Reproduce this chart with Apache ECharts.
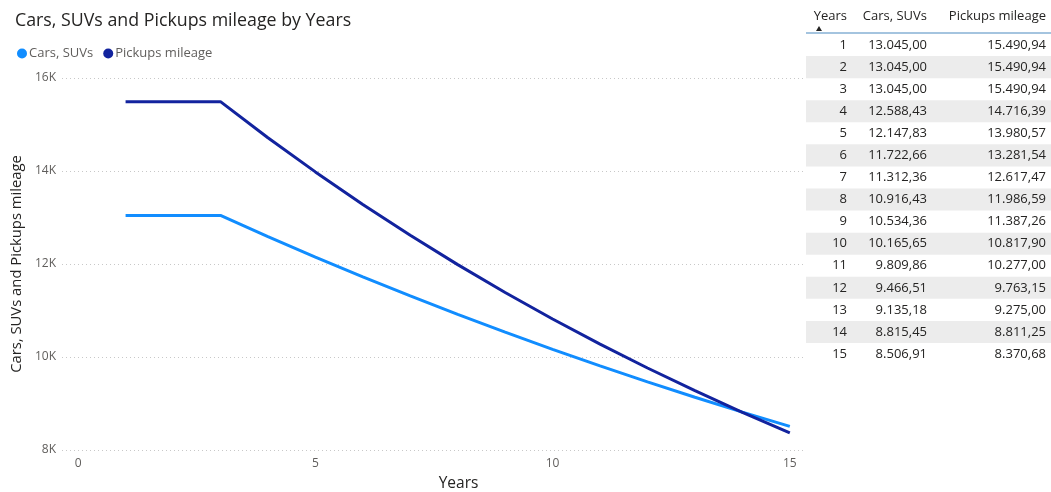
<!DOCTYPE html>
<html>
<head>
<meta charset="utf-8">
<script src="https://cdn.jsdelivr.net/npm/echarts@6/dist/echarts.min.js"></script>
<style>
  html, body { margin: 0; padding: 0; background: #fff; }
  #chart { width: 1051px; height: 492px; }
</style>
</head>
<body>
<div id="chart"></div>
<script>
// Mileage by age of vehicle (years)
const years = [1, 2, 3, 4, 5, 6, 7, 8, 9, 10, 11, 12, 13, 14, 15];
const carsSuvs = [13045.00, 13045.00, 13045.00, 12588.43, 12147.83, 11722.66, 11312.36, 10916.43, 10534.36, 10165.65, 9809.86, 9466.51, 9135.18, 8815.45, 8506.91];
const pickups = [15490.94, 15490.94, 15490.94, 14716.39, 13980.57, 13281.54, 12617.47, 11986.59, 11387.26, 10817.90, 10277.00, 9763.15, 9275.00, 8811.25, 8370.68];
const xTicks = [0, 5, 10, 15];
const tableHeaders = ['Years', 'Cars, SUVs', 'Pickups mileage'];

const FONT = '"Open Sans", "Noto Sans", sans-serif';
const TEXT_DARK = '#252423';
const TEXT_GREY = '#605E5C';

// German-style number format: 13.045,00
function fmt(v) {
  const parts = v.toFixed(2).split('.');
  const intPart = parts[0].replace(/\B(?=(\d{3})+(?!\d))/g, '.');
  return intPart + ',' + parts[1];
}

// Side table built from the same arrays
const table = [];
const tx = 806, tw = 245;
const rowTop = 34, rowH = 22.07;
const colRight = [847, 927, 1046];
tableHeaders.forEach((h, i) => {
  table.push({
    type: 'text', x: colRight[i], y: 16,
    style: { text: h, align: 'right', verticalAlign: 'middle', font: '13px ' + FONT, fill: TEXT_DARK }
  });
});
table.push({ type: 'polygon', shape: { points: [[816, 31], [822, 31], [819, 26]] }, style: { fill: TEXT_DARK } });
table.push({ type: 'rect', shape: { x: tx, y: 32.5, width: tw, height: 1 }, style: { fill: '#4a8ac0' } });
years.forEach((yr, r) => {
  const y0 = rowTop + r * rowH;
  if (r % 2 === 1) {
    table.push({ type: 'rect', shape: { x: tx, y: y0, width: tw, height: rowH }, style: { fill: '#ececec' }, z: 0 });
  }
  const cells = [String(yr), fmt(carsSuvs[r]), fmt(pickups[r])];
  cells.forEach((c, i) => {
    table.push({
      type: 'text', x: colRight[i], y: y0 + rowH / 2,
      style: { text: c, align: 'right', verticalAlign: 'middle', font: '13px ' + FONT, fill: TEXT_DARK }, z: 2
    });
  });
});

const chart = echarts.init(document.getElementById('chart'), null, { renderer: 'canvas' });
chart.setOption({
  animation: false,
  backgroundColor: '#ffffff',
  title: {
    text: 'Cars, SUVs and Pickups mileage by Years',
    left: 10, top: 7,
    textStyle: { fontFamily: FONT, fontSize: 17.8, fontWeight: 'normal', color: TEXT_DARK }
  },
  legend: {
    left: 12, top: 42,
    icon: 'circle', itemWidth: 10, itemHeight: 10, itemGap: 10,
    textStyle: { fontFamily: FONT, fontSize: 13, color: TEXT_GREY, padding: [0, 0, 0, -3] },
    data: ['Cars, SUVs', 'Pickups mileage']
  },
  grid: { left: 62, right: 246, top: 78, bottom: 42, containLabel: false, outerBoundsMode: 'none' },
  xAxis: {
    type: 'value', min: -0.34, max: 15.32,
    name: 'Years', nameLocation: 'middle', nameGap: 26,
    nameTextStyle: { fontFamily: FONT, fontSize: 15.5, color: TEXT_DARK, padding: [0, 0, 0, 50] },
    axisLine: { show: false }, axisTick: { show: false }, splitLine: { show: false },
    axisLabel: { customValues: xTicks, fontFamily: FONT, fontSize: 12, color: TEXT_GREY, margin: 8 }
  },
  yAxis: {
    type: 'value', min: 8000, max: 16000, interval: 2000,
    name: 'Cars, SUVs and Pickups mileage', nameLocation: 'middle', nameGap: 33, nameRotate: 90,
    nameTextStyle: { fontFamily: FONT, fontSize: 14.8, color: TEXT_DARK },
    axisLine: { show: false }, axisTick: { show: false },
    axisLabel: { formatter: v => (v / 1000) + 'K', fontFamily: FONT, fontSize: 12, color: TEXT_GREY, margin: 6 },
    splitLine: { lineStyle: { type: [1, 3], color: '#c8c8c8', width: 1 } }
  },
  series: [
    {
      name: 'Cars, SUVs', type: 'line', showSymbol: false, symbol: 'circle',
      data: years.map((y, i) => [y, carsSuvs[i]]),
      lineStyle: { width: 3, color: '#118DFF' }, itemStyle: { color: '#118DFF' }
    },
    {
      name: 'Pickups mileage', type: 'line', showSymbol: false, symbol: 'circle',
      data: years.map((y, i) => [y, pickups[i]]),
      lineStyle: { width: 3, color: '#12239E' }, itemStyle: { color: '#12239E' }
    }
  ],
  graphic: table
});
</script>
</body>
</html>
